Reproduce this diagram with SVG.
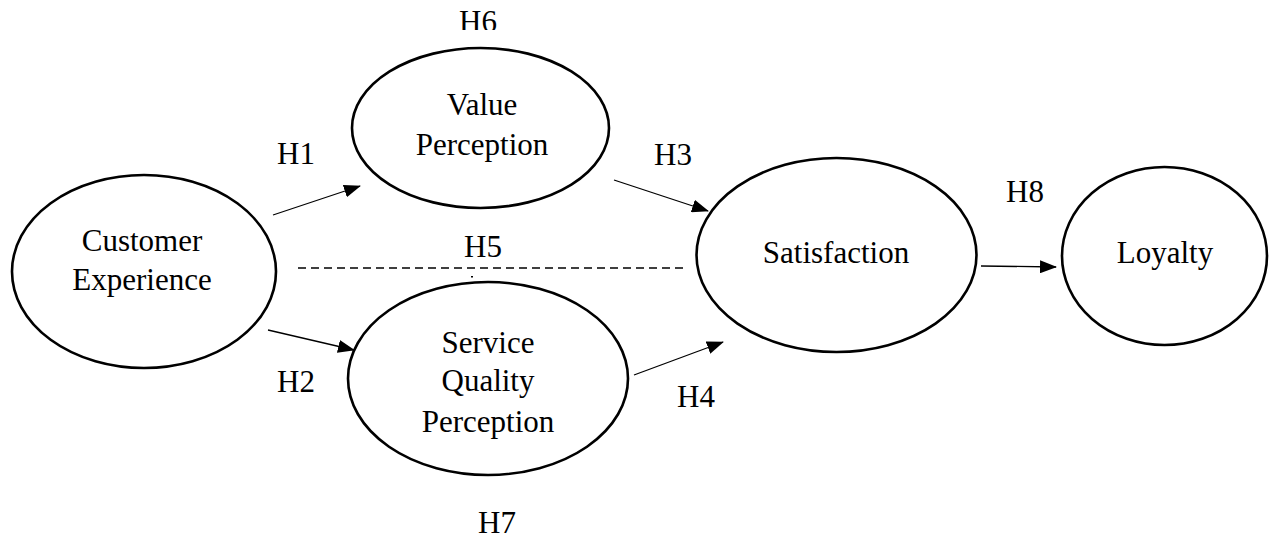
<svg xmlns="http://www.w3.org/2000/svg" width="1270" height="539" viewBox="0 0 1270 539">
  <style>
    .node ellipse { fill: #fff; stroke: #000; stroke-width: 2.6; }
    text { font-family: "Liberation Serif", "Times New Roman", serif; font-size: 31px; fill: #000; text-anchor: middle; }
    .link { stroke: #000; stroke-width: 1.3; fill: none; }
    .arrow { marker-end: url(#head); }
    .dash { stroke-dasharray: 8 5; }
  </style>
  <defs>
    <marker id="head" viewBox="0 0 17 13" refX="16" refY="6.5" markerWidth="17" markerHeight="13" markerUnits="userSpaceOnUse" orient="auto">
      <path d="M0,0 L17,6.5 L0,13 Z" fill="#000"/>
    </marker>
    <clipPath id="topcut">
      <rect x="0" y="0" width="1270" height="30"/>
    </clipPath>
  </defs>
  <rect width="1270" height="539" fill="#fff"/>

  <g id="connectors">
    <line class="link arrow" x1="273" y1="215" x2="360" y2="186"/>
    <line class="link arrow" x1="268" y1="330" x2="354" y2="350"/>
    <line class="link arrow" x1="614" y1="180" x2="708" y2="211"/>
    <line class="link arrow" x1="634" y1="375" x2="723" y2="342"/>
    <line class="link arrow" x1="981" y1="266" x2="1056" y2="267"/>
    <line class="link dash" x1="298" y1="268" x2="686" y2="268"/>
    <rect x="471" y="276" width="2" height="1.5" fill="#000"/>
  </g>

  <g id="labels">
    <text x="478" y="32" clip-path="url(#topcut)">H6</text>
    <text x="296" y="164">H1</text>
    <text x="673" y="165">H3</text>
    <text x="1025" y="202">H8</text>
    <text x="483" y="257">H5</text>
    <text x="296" y="392">H2</text>
    <text x="696" y="407">H4</text>
    <text x="497" y="533">H7</text>
  </g>

  <g id="customer-experience" class="node">
    <ellipse cx="144" cy="271.5" rx="132" ry="96.5"/>
    <text x="142" y="251">Customer</text>
    <text x="142" y="290">Experience</text>
  </g>

  <g id="value-perception" class="node">
    <ellipse cx="480.5" cy="128" rx="128.5" ry="80"/>
    <text x="482" y="115">Value</text>
    <text x="482" y="155">Perception</text>
  </g>

  <g id="service-quality-perception" class="node">
    <ellipse cx="488" cy="378.5" rx="140" ry="96.5"/>
    <text x="488" y="353">Service</text>
    <text x="488" y="391">Quality</text>
    <text x="488" y="432">Perception</text>
  </g>

  <g id="satisfaction" class="node">
    <ellipse cx="836.5" cy="255" rx="140" ry="97"/>
    <text x="836" y="263">Satisfaction</text>
  </g>

  <g id="loyalty" class="node">
    <ellipse cx="1164.5" cy="256" rx="102.5" ry="89"/>
    <text x="1165" y="263">Loyalty</text>
  </g>
</svg>
